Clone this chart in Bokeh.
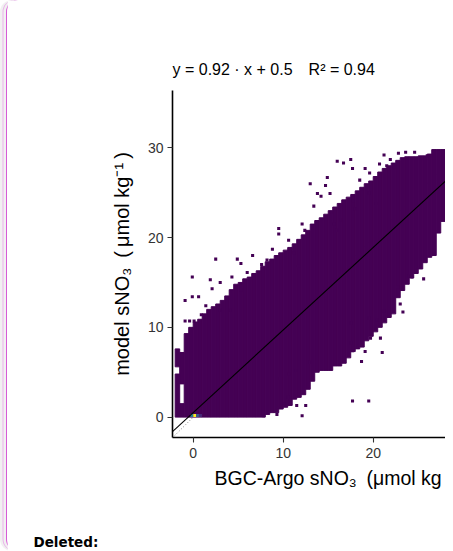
from bokeh.plotting import figure
from bokeh.models import Title, LinearColorMapper, Range1d, FixedTicker, ColumnDataSource
from bokeh.transform import transform
from bokeh.palettes import Viridis256
from bokeh.embed import file_html
from bokeh.resources import INLINE

# ---- data (filled bin ranges per half-unit column) ----
seg_x = [-1.75, -1.75, -1.25, -1.25, -0.75, -0.25, 0.25, 0.75, 1.25, 1.75, 2.25, 2.75, 3.25, 3.75,
         4.25, 4.75, 5.25, 5.75, 6.25, 6.75, 7.25, 7.75, 8.25, 8.75, 9.25, 9.75, 10.25, 10.75,
         11.25, 11.75, 12.25, 12.75, 13.25, 13.75, 14.25, 14.75, 15.25, 15.75, 16.25, 16.75,
         17.25, 17.75, 18.25, 18.75, 19.25, 19.75, 20.25, 20.75, 21.25, 21.75, 22.25, 22.75,
         23.25, 23.75, 24.25, 24.75, 25.25, 25.75, 26.25, 26.75, 27.25, 27.75]
seg_lo = [0, 5.6, 0, 3.7, 0, 0, 0, 0, 0, 0, 0, 0, 0, 0,
          0, 0, 0, 0, 0, 0, 0, 0, 0.3, 0.5, 0.5, 0.9, 1.1, 1.3,
          2.0, 2.2, 2.5, 3.1, 4.0, 5.0, 5.2, 5.2, 5.2, 5.7, 5.7, 6.0,
          6.6, 7.3, 7.6, 7.8, 8.5, 9.0, 9.5, 10.0, 10.5, 11.1, 11.5, 13.3,
          14.1, 14.8, 15.5, 16.0, 16.5, 17.2, 17.8, 18.0, 20.5, 21.8]
seg_hi = [4.8, 7.6, 1.5, 7.2, 9.3, 10.0, 10.6, 10.9, 11.5, 12.0, 12.3, 12.6, 13.0, 13.5,
          14.2, 14.8, 15.0, 15.4, 15.6, 16.0, 16.3, 16.8, 17.3, 17.6, 18.0, 18.3, 18.6, 18.9,
          19.3, 19.8, 20.3, 20.8, 21.5, 21.9, 22.2, 22.6, 23.0, 23.4, 23.8, 24.2,
          24.5, 24.8, 25.2, 25.6, 26.0, 26.3, 26.8, 27.3, 27.7, 28.0, 28.3, 28.6,
          28.9, 29.0, 29.0, 29.0, 29.1, 29.1, 29.3, 29.8, 29.8, 29.8]

# isolated bins
stray_x = [-0.1, -0.9, -0.1, 0.6, 2.5, 3.0, 4.3, 4.9, 5.3, 6.6, 3.0, 4.1, 5.3, 1.9, 2.1,
           9.5, 9.5, 8.8, 10.6, 11.2, 11.7, 12.1, 12.4, 12.7, 13.0, 13.8, 14.7, 14.9,
           16.0, 16.7, 17.5, 17.7, 15.4, 15.6, 16.0, 16.4, 17.8, 18.0, 19.1, 19.5, 20.3,
           21.2, 21.9, 21.5, 22.3, 26.0, 25.6, -0.9, -0.4, 0.1,
           17.5, 17.5, 19.5, 20.4, 19.7, 20.8, 21.0, 21.2, 23.3, 23.0, 22.7, 24.0, 24.3,
           17.7, 19.5, 13.0, 11.4, 10.6, 9.7, 10.5, 10.1, 11.5, 12.5, 12.1, 7.85, 9.3,
           17.7, 19.1, 18.7, 13.4, 14.2, 15.2, 18.5, 19.6, 20.7, 22.8, 23.6, 24.6,
           0.9, 1.4, 6.0, 7.6, 8.2]
stray_y = [15.6, 13.0, 13.4, 13.4, 17.6, 15.0, 15.6, 17.6, 17.1, 18.0, 11.9, 11.9, 14.2, 15.3, 14.3,
           20.4, 21.0, 18.7, 19.7, 18.3, 16.8, 21.5, 20.8, 20.2, 26.0, 24.9, 25.8, 26.7,
           28.5, 28.3, 28.7, 27.7, 22.8, 21.5, 20.8, 22.0, 24.1, 23.2, 27.7, 25.0, 23.8,
           29.2, 28.7, 28.0, 27.9, 29.1, 15.4, 10.7, 10.7, 10.7,
           10.5, 8.3, 11.0, 10.8, 8.8, 8.8, 7.2, 11.8, 11.7, 12.6, 14.5, 15.7, 15.6,
           1.8, 1.8, 6.1, 5.2, 4.8, 4.3, 2.2, 1.5, 1.3, 1.3, 0.15, 0.15, 0.3,
           7.4, 7.3, 6.2, 23.5, 24.6, 24.9, 26.4, 27.2, 28.2, 29.4, 29.5, 29.5,
           11.4, 12.4, 16.1, 17.0, 17.5]

hot_x = [-0.15, 0.18, 0.5, 0.8]
hot_y = [0.17, 0.17, 0.17, 0.17]
hot_n = [45, 100, 30, 12]

fit_slope = 0.92
fit_icpt = 0.5
x_ticks = [0, 10, 20]
y_ticks = [0, 10, 20, 30]
cell = 0.34

SP = "\u2002"
title_text = "y = 0.92 \u00b7 x + 0.5\u2003R\u00b2 = 0.94"
x_title = "BGC-Argo sNO\u2083" + SP + "(\u03bcmol kg"
y_title = "model sNO\u2083" + SP + "(\u2009\u03bcmol kg\u207b\u00b9\u2009)"

FONT = "Liberation Sans"

p = figure(width=439, height=551, output_backend="svg", toolbar_location=None,
           x_range=Range1d(-2.3, 28.14), y_range=Range1d(-2.27, 36.38),
           min_border_left=165, min_border_right=0, min_border_top=90, min_border_bottom=114)
p.styles = {"margin-left": "6px", "border-left": "1px solid #d65cd6",
            "border-radius": "12px",
            "box-shadow": "-2.5px 0 0 0 #f1f1f1, -3.5px 0 0 0 #eab4ea, -6px 0 0 0 #f1f1f1"}
p.xgrid.visible = False
p.ygrid.visible = False
p.outline_line_color = None
p.background_fill_color = "white"
p.border_fill_color = "white"

for ax, ticks in ((p.xaxis, x_ticks), (p.yaxis, y_ticks)):
    ax.ticker = FixedTicker(ticks=ticks)
    ax.axis_line_color = "black"
    ax.axis_line_width = 1.6
    ax.major_tick_line_color = "#333333"
    ax.major_tick_line_width = 1.1
    ax.major_tick_out = 5
    ax.major_tick_in = 0
    ax.minor_tick_line_color = None
    ax.major_label_text_font = FONT
    ax.major_label_text_font_size = "14px"
    ax.major_label_text_color = "#333333"
p.xaxis.major_label_standoff = 5
p.yaxis.major_label_standoff = 4

p.yaxis.axis_label = y_title
p.yaxis.axis_label_text_font = FONT
p.yaxis.axis_label_text_font_size = "20px"
p.yaxis.axis_label_text_font_style = "normal"
p.yaxis.axis_label_text_color = "black"
p.yaxis.axis_label_standoff = 12

# 1:1 dotted line (under the cells)
xr = [p.x_range.start, p.x_range.end]
p.line(xr, xr, line_color="#666666", line_dash="1 2", line_width=0.8)

# bins
purple = Viridis256[0]
p.vbar(x=seg_x, width=0.5, bottom=seg_lo, top=seg_hi, fill_color=purple,
       line_color=purple, line_width=1)
p.rect(x=stray_x, y=stray_y, width=cell, height=cell, fill_color=purple, line_color=None)
mapper = LinearColorMapper(palette=Viridis256, low=1, high=max(hot_n))
hot_src = ColumnDataSource(data=dict(x=hot_x, y=hot_y, n=hot_n))
p.rect(x="x", y="y", width=0.34, height=0.34, line_color=None,
       fill_color=transform("n", mapper), source=hot_src)

# regression line
p.line(xr, [fit_slope * v + fit_icpt for v in xr], line_color="black", line_width=1.1)

# titles (side panels are not clipped)
p.title = Title(text=title_text, align="left", offset=0, standoff=25,
                text_font=FONT, text_font_size="16px", text_font_style="normal",
                text_color="black")
p.add_layout(Title(text=x_title, align="left", offset=42, standoff=9,
                   text_font=FONT, text_font_size="19.5px", text_font_style="normal",
                   text_color="black"), "below")
p.add_layout(Title(text="\n\nDeleted:", align="left", offset=-139, standoff=3,
                   text_font="DejaVu Sans", text_font_size="13.5px", text_font_style="bold",
                   text_line_height=1.17, text_color="black"), "below")

open("out.html", "w").write(file_html(p, INLINE))
